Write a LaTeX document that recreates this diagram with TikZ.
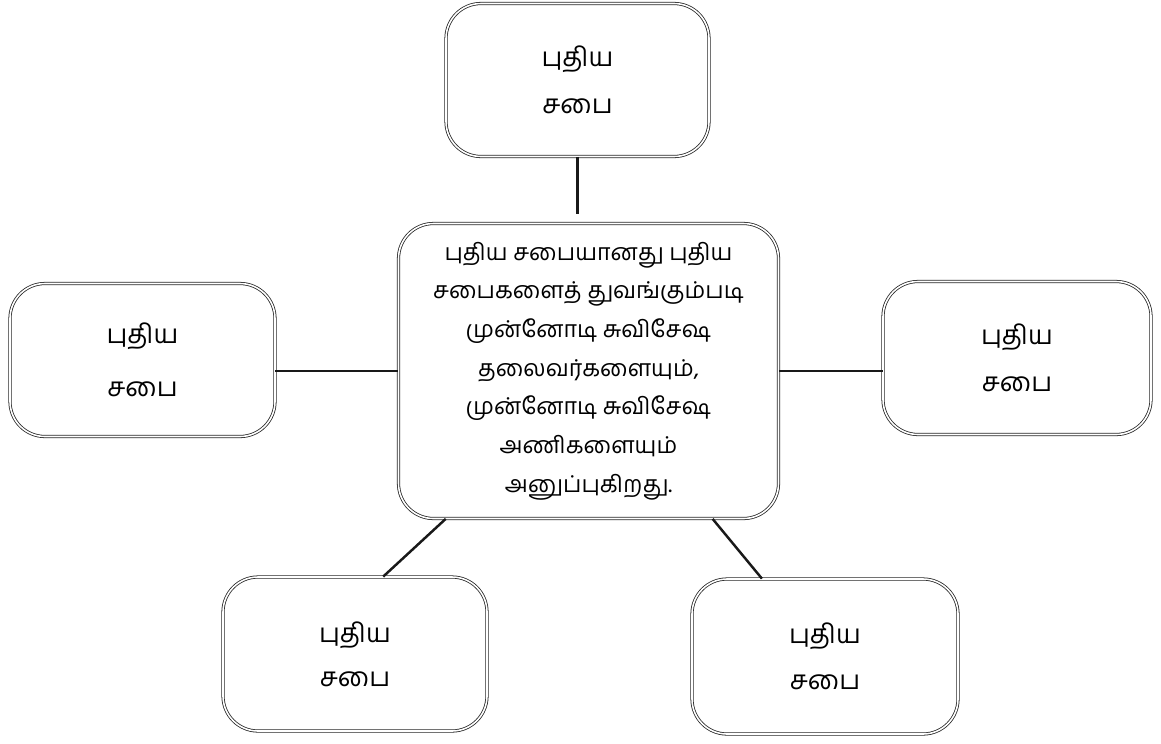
\documentclass[tikz,border=0pt]{standalone}
\usepackage{fontspec}
\newfontfamily\tamilfont[Script=Tamil]{Hind Madurai}
\begin{document}
\begin{tikzpicture}[
	sabhai/.style={draw=black!85, line width=0.45pt, double, double distance=0.9pt, rounded corners=0.7cm, align=center, font=\tamilfont\fontsize{15}{22}\selectfont, inner sep=0pt},
	link/.style={draw=black!90, line width=1.4pt}]
	\useasboundingbox (0,0) rectangle (23.22,-14.86);
	\node[sabhai, minimum width=7.6cm, minimum height=5.9cm, font=\tamilfont\fontsize{13.2}{22}\selectfont] (main) at (11.77,-7.42) {புதிய சபையானது புதிய\\ சபைகளைத் துவங்கும்படி\\ முன்னோடி சுவிசேஷ\\ தலைவர்களையும்,\\ முன்னோடி சுவிசேஷ\\ அணிகளையும்\\ அனுப்புகிறது.};
	\node[sabhai, minimum width=5.26cm, minimum height=3.06cm] (top) at (11.55,-1.6) {புதிய\\[5pt] சபை};
	\node[sabhai, minimum width=5.3cm, minimum height=3.06cm] (left) at (2.85,-7.2) {புதிய\\[8pt] சபை};
	\node[sabhai, minimum width=5.36cm, minimum height=3.06cm] (right) at (20.34,-7.16) {புதிய\\[5pt] சபை};
	\node[sabhai, minimum width=5.28cm, minimum height=3.08cm] (botleft) at (7.1,-13.08) {புதிய\\[3pt] சபை};
	\node[sabhai, minimum width=5.32cm, minimum height=3.1cm] (botright) at (16.5,-13.13) {புதிய\\[4pt] சபை};
	\draw[link] (top.south) -- ([yshift=5pt]main.north -| top.south);
	\draw[link] (left.east |- main.west) -- (main.west);
	\draw[link] (main.east) -- (right.west |- main.east);
	\draw[link] (main.226) -- (botleft.70);
	\draw[link] (main.310) -- (botright.129);
\end{tikzpicture}
\end{document}
